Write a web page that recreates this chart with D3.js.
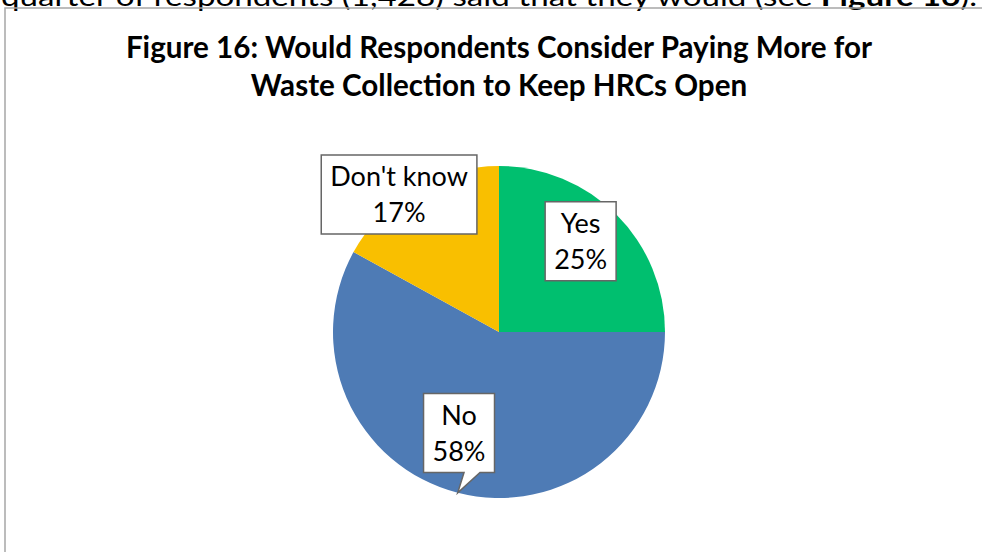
<!DOCTYPE html>
<html>
<head>
<meta charset="utf-8">
<script src="https://cdn.jsdelivr.net/npm/d3@7"></script>
<style>
  body { margin: 0; background: #fff; }
  svg { display: block; font-family: Lato, "Noto Sans", sans-serif; }
</style>
</head>
<body>
<svg id="chart" width="982" height="552"></svg>
<script>
// data
const categories = ['Yes', 'No', "Don't know"];
const shares = [25, 58, 17];
const colours = ['#00bf6f', '#4e7bb5', '#f9bf00'];

const titleLines = [
  'Figure 16: Would Respondents Consider Paying More for',
  'Waste Collection to Keep HRCs Open'
];

// where each callout sits, polar around the pie centre (deg clockwise from top, px)
const labelLayout = {
  'Yes': {angle: 42, dist: 122, pointer: false},
  'No': {angle: 201.6, dist: 108.6, pointer: true},
  "Don't know": {angle: 324, dist: 170, pointer: false}
};

const svg = d3.select('#chart');
const W = 982, H = 552;
const cx = 499, cy = 332, radius = 166;

// the bit of body text above the figure, clipped by the page top
const body = svg.append('text')
  .attr('x', 1)
  .attr('y', 6)
  .attr('font-size', 26)
  .attr('font-family', 'Lato, sans-serif')
  .attr('fill', '#000')
  .attr('textLength', 976)
  .attr('lengthAdjust', 'spacingAndGlyphs');
body.append('tspan').text('quarter of respondents (1,428) said that they would (see ');
body.append('tspan').attr('font-weight', 'bold').text('Figure 16');
body.append('tspan').text(').');

// chart frame (runs off right and bottom)
svg.append('rect')
  .attr('x', 5)
  .attr('y', 8)
  .attr('width', W + 20)
  .attr('height', H + 20)
  .attr('fill', 'none')
  .attr('stroke', '#a6a6a6')
  .attr('stroke-width', 1.5);

svg.append('g')
  .attr('class', 'title')
  .selectAll('text')
  .data(titleLines)
  .join('text')
  .attr('x', cx)
  .attr('y', (d, i) => 58 + i * 38)
  .attr('text-anchor', 'middle')
  .attr('font-weight', 'bold')
  .attr('font-size', 29.6)
  .attr('fill', '#000')
  .text(d => d);

const data = categories.map((c, i) => ({name: c, value: shares[i], colour: colours[i]}));

const pie = d3.pie()
  .sort(null)
  .value(d => d.value);

const arc = d3.arc()
  .innerRadius(0)
  .outerRadius(radius);

const arcs = pie(data);

const g = svg.append('g')
  .attr('transform', `translate(${cx},${cy})`);

g.selectAll('path.slice')
  .data(arcs)
  .join('path')
  .attr('class', 'slice')
  .attr('d', arc)
  .attr('fill', d => d.data.colour);

function polar(angleDeg, dist){
  const a = angleDeg * Math.PI / 180;
  return [Math.sin(a) * dist, -Math.cos(a) * dist];
}

const labels = g.selectAll('g.label')
  .data(arcs)
  .join('g')
  .attr('class', 'label');

labels.each(function(d){
  const lay = labelLayout[d.data.name];
  const [lx, ly] = polar(lay.angle, lay.dist);
  const grp = d3.select(this);

  const box = grp.append('path')
    .attr('fill', '#fff')
    .attr('stroke', '#666')
    .attr('stroke-width', 1.5);

  const t = grp.append('text')
    .attr('text-anchor', 'middle')
    .attr('font-size', 27)
    .attr('fill', '#000');
  t.append('tspan')
    .attr('x', lx)
    .attr('y', ly - 8)
    .text(d.data.name);
  t.append('tspan')
    .attr('x', lx)
    .attr('y', ly + 28)
    .text(d.data.value + '%');

  const tw = t.node().getBBox().width;
  const bw = tw + 18, bh = 79;
  const x0 = lx - bw / 2, x1 = lx + bw / 2;
  const y0 = ly - bh / 2, y1 = ly + bh / 2;

  let p = `M${x0},${y0}H${x1}V${y1}`;
  if(lay.pointer){
    const mid = (d.startAngle + d.endAngle) / 2 * 180 / Math.PI;
    const [tx, ty] = polar(mid, radius);
    p += `H${lx + 21}L${tx},${ty}L${lx + 5},${y1}`;
  }
  p += `H${x0}Z`;
  box.attr('d', p);
});
</script>
</body>
</html>
